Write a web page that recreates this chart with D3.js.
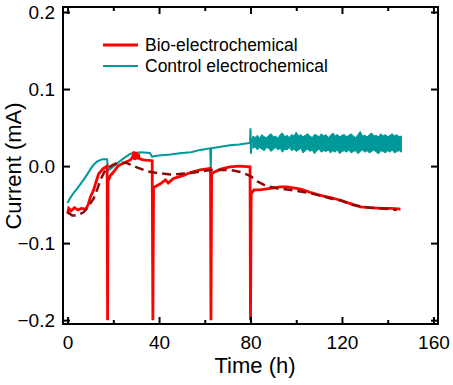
<!DOCTYPE html>
<html>
<head>
<meta charset="utf-8">
<script src="https://cdn.jsdelivr.net/npm/d3@7"></script>
<style>
  body { margin: 0; background: #fff; }
  text { font-family: Arial, "Liberation Sans", sans-serif; }
</style>
</head>
<body>
<script>
// ---- data ----
var bioTime = [0, 0.5, 1.5, 3, 4.5, 6, 8, 9, 10, 11.4, 12.5, 13.6, 15.7, 17.3, 17.5, 17.7, 18.8, 20, 22, 24.5,
  27.5, 28.5, 29, 29.3, 30, 30.3, 31, 31.3, 33, 37, 37.3, 37.6, 40.6, 42.8, 44, 46.3, 50.7, 54, 58, 62.5,
  62.7, 63, 64, 67, 71, 75, 79.8, 80, 80.3, 81.5, 84, 88.7, 93, 96, 102, 106, 110.6, 115, 119, 124,
  128, 132, 137, 142, 145.6];
var bioCurrent = [-0.062, -0.055, -0.058, -0.054, -0.057, -0.055, -0.056, -0.05, -0.04, -0.031, -0.02, -0.01, -0.003, 0.0, -0.2, -0.02, -0.012, -0.008, 0.0, 0.004,
  0.008, 0.012, 0.019, 0.008, 0.018, 0.009, 0.016, 0.01, 0.008, 0.007, -0.2, -0.028, -0.023, -0.018, -0.022, -0.016, -0.012, -0.008, -0.005, -0.003,
  -0.2, -0.01, -0.008, -0.004, -0.001, 0.0, -0.001, -0.2, -0.036, -0.031, -0.031, -0.029, -0.027, -0.027, -0.03, -0.034, -0.038, -0.041, -0.044, -0.049,
  -0.053, -0.054, -0.055, -0.055, -0.056];

var fitTime = [0, 2, 4, 7, 9, 11.4, 13, 14.4, 16, 17.5, 20, 22, 26, 28, 30.6, 35, 39, 45, 50, 54,
  58, 62.5, 71, 76, 80, 83, 87, 92, 97.5, 106, 115, 120, 124, 128, 132.5, 138, 144];
var fitCurrent = [-0.06, -0.064, -0.064, -0.06, -0.053, -0.042, -0.03, -0.018, -0.008, -0.003, 0.002, 0.004, 0.004, 0.001, -0.002, -0.007, -0.009, -0.011, -0.01, -0.009,
  -0.007, -0.005, -0.005, -0.008, -0.013, -0.02, -0.026, -0.029, -0.031, -0.035, -0.042, -0.045, -0.05, -0.052, -0.054, -0.055, -0.057];

var controlTime = [0, 1, 2.6, 4, 5.7, 7.9, 10, 11.5, 13, 15.3, 17.3, 17.6, 19, 21.9, 24.5, 27.5, 29, 32, 36, 37,
  38, 41, 45, 50, 54, 58, 62.4, 62.6, 62.8, 67, 71, 75, 79.8, 80, 80.2, 80.5, 81];
var controlCurrent = [-0.048, -0.042, -0.035, -0.03, -0.023, -0.014, -0.004, 0.002, 0.006, 0.009, 0.009, -0.006, -0.003, 0.004, 0.01, 0.016, 0.017, 0.018, 0.017, 0.012,
  0.013, 0.014, 0.015, 0.017, 0.018, 0.021, 0.023, -0.003, 0.023, 0.025, 0.027, 0.028, 0.03, 0.049, 0.016, 0.036, 0.032];

// noisy stretch of the control run (81 h to 146 h, hourly), lower / upper envelope
var bandStart = 81;
var bandLow = [0.023, 0.025, 0.021, 0.024, 0.022, 0.020, 0.024, 0.023, 0.019, 0.022, 0.024, 0.021, 0.023, 0.018, 0.022, 0.021, 0.024, 0.020, 0.022, 0.019,
  0.021, 0.023, 0.017, 0.020, 0.022, 0.019, 0.021, 0.016, 0.020, 0.022, 0.018, 0.020, 0.019, 0.021, 0.017, 0.020, 0.018, 0.021, 0.016, 0.019,
  0.020, 0.018, 0.021, 0.017, 0.019, 0.020, 0.016, 0.019, 0.021, 0.018, 0.020, 0.017, 0.019, 0.021, 0.018, 0.016, 0.020, 0.019, 0.017, 0.020,
  0.018, 0.021, 0.017, 0.019, 0.020, 0.018];
var bandHigh = [0.039, 0.037, 0.040, 0.036, 0.041, 0.038, 0.037, 0.040, 0.042, 0.038, 0.039, 0.036, 0.041, 0.043, 0.038, 0.040, 0.037, 0.041, 0.039, 0.044,
  0.039, 0.041, 0.038, 0.040, 0.042, 0.039, 0.037, 0.041, 0.040, 0.038, 0.042, 0.039, 0.041, 0.037, 0.040, 0.043, 0.039, 0.041, 0.038, 0.040,
  0.041, 0.038, 0.040, 0.042, 0.039, 0.037, 0.041, 0.045, 0.039, 0.040, 0.038, 0.041, 0.043, 0.039, 0.040, 0.038, 0.042, 0.039, 0.041, 0.038,
  0.040, 0.042, 0.039, 0.041, 0.038, 0.039];

var xTicks = [0, 40, 80, 120, 160];
var xMinor = [20, 60, 100, 140];
var yTicks = [-0.2, -0.1, 0.0, 0.1, 0.2];
var legendLabels = ["Bio-electrochemical", "Control electrochemical"];

var red = "#ff0000", teal = "#009999", darkRed = "#8b0a0a";

var svg = d3.select("body")
    .append("svg")
    .attr("width", 453)
    .attr("height", 385)
    .style("display", "block");

var x = d3.scaleLinear().domain([-2, 162]).range([63, 438]);
var y = d3.scaleLinear().domain([-0.205, 0.2065]).range([324, 7]);

var fmt = d3.format(".1f");

function zip(t, v) { return t.map(function(d, i) { return [d, v[i]]; }); }

var line = d3.line()
    .x(function(d) { return x(d[0]); })
    .y(function(d) { return y(d[1]); });

// control (teal)
svg.append("path")
    .datum(zip(controlTime, controlCurrent))
    .attr("d", line)
    .attr("fill", "none")
    .attr("stroke", teal)
    .attr("stroke-width", 2);

var band = bandLow.map(function(lo, i) { return {t: bandStart + i, lo: lo, hi: bandHigh[i]}; });
svg.append("path")
    .datum(band)
    .attr("d", d3.area()
        .x(function(d) { return x(d.t); })
        .y0(function(d) { return y(d.lo); })
        .y1(function(d) { return y(d.hi); }))
    .attr("fill", teal)
    .attr("stroke", teal)
    .attr("stroke-width", 1);

// bio (red)
svg.append("path")
    .datum(zip(bioTime, bioCurrent))
    .attr("d", line)
    .attr("fill", "none")
    .attr("stroke", red)
    .attr("stroke-width", 2.8);

// fit (dashed)
svg.append("path")
    .datum(zip(fitTime, fitCurrent))
    .attr("d", line)
    .attr("fill", "none")
    .attr("stroke", darkRed)
    .attr("stroke-width", 2.5)
    .attr("stroke-dasharray", "9,5");

// axes, ticks pointing inward on all four sides
function clean(g) { g.select(".domain").remove(); }

svg.append("g")
    .attr("transform", "translate(0,324)")
    .call(d3.axisBottom(x).tickValues(xTicks).tickSize(-7).tickPadding(12))
    .call(clean);
svg.append("g")
    .attr("transform", "translate(0,324)")
    .call(d3.axisBottom(x).tickValues(xMinor).tickSize(-4).tickFormat(""))
    .call(clean);
svg.append("g")
    .attr("transform", "translate(0,7)")
    .call(d3.axisTop(x).tickValues(xTicks).tickSize(-7).tickFormat(""))
    .call(clean);
svg.append("g")
    .attr("transform", "translate(0,7)")
    .call(d3.axisTop(x).tickValues(xMinor).tickSize(-4).tickFormat(""))
    .call(clean);
svg.append("g")
    .attr("transform", "translate(63,0)")
    .call(d3.axisLeft(y).tickValues(yTicks).tickSize(-7).tickPadding(8).tickFormat(fmt))
    .call(clean);
svg.append("g")
    .attr("transform", "translate(438,0)")
    .call(d3.axisRight(y).tickValues(yTicks).tickSize(-7).tickFormat(""))
    .call(clean);

svg.selectAll(".tick line").attr("stroke", "#000").attr("stroke-width", 2);
svg.selectAll(".tick text").attr("font-size", "19px").attr("fill", "#000")
    .style("font-family", "Arial, 'Liberation Sans', sans-serif");

svg.append("rect")
    .attr("x", 63).attr("y", 7)
    .attr("width", 375).attr("height", 317)
    .attr("fill", "none")
    .attr("stroke", "#000")
    .attr("stroke-width", 2);

// axis titles
svg.append("text")
    .attr("x", 255).attr("y", 373)
    .attr("text-anchor", "middle")
    .attr("font-size", "22px")
    .text("Time (h)");

svg.append("text")
    .attr("transform", "translate(21,166) rotate(-90)")
    .attr("text-anchor", "middle")
    .attr("font-size", "22px")
    .text("Current (mA)");

// legend
var legendColors = [red, teal];
var lg = svg.append("g");
legendLabels.forEach(function(label, i) {
    var ly = 45 + i * 21;
    lg.append("line")
        .attr("x1", 103).attr("x2", 138)
        .attr("y1", ly).attr("y2", ly)
        .attr("stroke", legendColors[i])
        .attr("stroke-width", i === 0 ? 2.8 : 2);
    lg.append("text")
        .attr("x", 145).attr("y", ly + 6)
        .attr("font-size", "17.5px")
        .text(label);
});
</script>
</body>
</html>
